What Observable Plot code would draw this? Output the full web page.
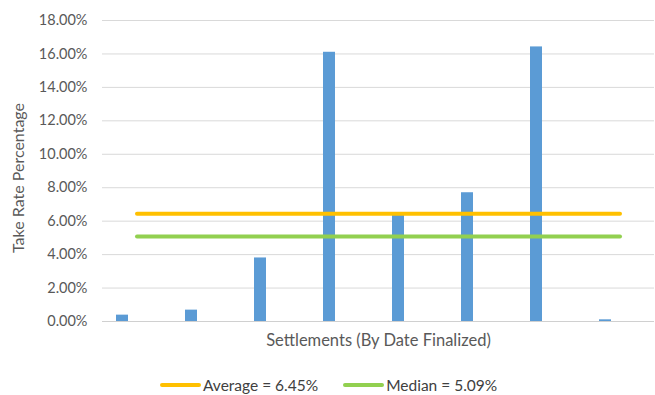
<!DOCTYPE html>
<html>
<head>
<meta charset="utf-8">
<script src="https://cdn.jsdelivr.net/npm/d3@7"></script>
<script src="https://cdn.jsdelivr.net/npm/@observablehq/plot@0.6"></script>
<style>
  body { margin: 0; background: #fff; font-family: Lato, "Open Sans", sans-serif; }
  #chart { width: 655px; }
  .legend { display: flex; justify-content: flex-start; align-items: center; height: 20px; margin-top: 20px; padding-left: 160px; font-size: 15.5px; color: #404040; }
  .legend .item { display: flex; align-items: center; margin-right: 25px; }
  .legend .sw { display: inline-block; width: 41px; height: 4px; border-radius: 2px; margin-right: 2px; }
</style>
</head>
<body>
<div id="chart"></div>
<script>
const categories = ["S1", "S2", "S3", "S4", "S5", "S6", "S7", "S8"];
const takeRates = [0.38, 0.68, 3.8, 16.1, 6.38, 7.7, 16.42, 0.1];
const averageValue = 6.45;
const medianValue = 5.09;
const yTicks = [0, 2, 4, 6, 8, 10, 12, 14, 16, 18];
const yLabel = "Take Rate Percentage";
const xLabel = "Settlements (By Date Finalized)";
const seriesNames = ["Average = 6.45%", "Median = 5.09%"];
const seriesColors = ["#FFC000", "#92D050"];
const barColor = "#5B9BD5";

const bars = categories.map((c, i) => ({ c, v: takeRates[i] }));
const avgLine = categories.map(c => ({ c, v: averageValue }));
const medLine = categories.map(c => ({ c, v: medianValue }));

const plot = Plot.plot({
  width: 655,
  height: 355,
  marginTop: 20,
  marginBottom: 34,
  marginLeft: 102,
  marginRight: 1,
  style: { fontFamily: "Lato, 'Open Sans', sans-serif", fontSize: "14.5px", color: "#595959" },
  x: { domain: categories, padding: 0 },
  y: { domain: [0, 18] },
  marks: [
    Plot.gridY(yTicks, { stroke: "#d9d9d9", strokeOpacity: 1 }),
    Plot.axisY({ ticks: yTicks, tickSize: 0, tickPadding: 15, tickFormat: d => d.toFixed(2) + "%", fontSize: 14.5,
      label: null }),
    Plot.text([yLabel], { frameAnchor: "left", rotate: -90, dx: -84, dy: 7, textAnchor: "middle", lineAnchor: "middle", fontSize: 16, fill: "#595959" }),
    Plot.axisX({ ticks: [], tickSize: 0, label: xLabel, labelAnchor: "center", labelArrow: "none", labelOffset: 24, fontSize: 16.5 }),
    Plot.barY(bars, { x: "c", y: "v", fill: barColor, insetLeft: 14, insetRight: 43 }),
    Plot.ruleY([0], { stroke: "#d0d0d0", strokeWidth: 1 }),
    Plot.lineY(avgLine, { x: "c", y: "v", stroke: seriesColors[0], strokeWidth: 4, strokeLinecap: "round" }),
    Plot.lineY(medLine, { x: "c", y: "v", stroke: seriesColors[1], strokeWidth: 4, strokeLinecap: "round" })
  ]
});
document.getElementById("chart").appendChild(plot);

const legend = document.createElement("div");
legend.className = "legend";
seriesNames.forEach((name, i) => {
  const item = document.createElement("span");
  item.className = "item";
  const sw = document.createElement("span");
  sw.className = "sw";
  sw.style.background = seriesColors[i];
  item.appendChild(sw);
  item.appendChild(document.createTextNode(name));
  legend.appendChild(item);
});
document.getElementById("chart").appendChild(legend);
</script>
</body>
</html>
